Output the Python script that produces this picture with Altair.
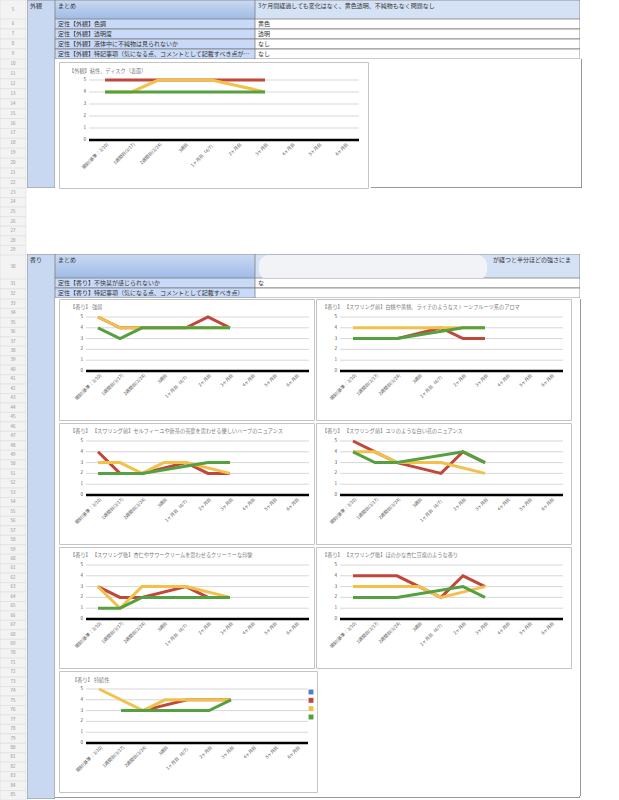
import altair as alt
import pandas as pd

FONT = "Noto Sans CJK JP"
BORDER = "#7d7d7d"
CAT_BG = "#c9d8f1"
LABEL_BG = "#c9daf8"
SUMVAL_BG = "#d5e2f5"
PANEL_STROKE = "#c4c4c4"

# ---------------- data ----------------
x_labels = ["開封(基準：3/10)", "1週間目(3/17)", "2週間目(3/24)", "3週目", "1ヶ月目（4/7）",
            "2ヶ月目", "3ヶ月目", "4ヶ月目", "5ヶ月目", "6ヶ月目"]
series_names = ["系列1", "系列2", "系列3", "系列4"]
series_colors = ["#4a7fd1", "#c0473a", "#f1c14c", "#55a040"]
y_ticks = [0, 1, 2, 3, 4, 5]

gaikan_name = "外観"
gaikan_summary_label = "まとめ"
gaikan_summary_value = "3ケ月間経過しても変化はなく、黄色透明、不純物もなく問題なし"
gaikan_item_labels = ["定性【外観】色調", "定性【外観】透明度", "定性【外観】液体中に不純物は見られないか",
                      "定性【外観】特記事項（気になる点、コメントとして記載すべき点があれば）"]
gaikan_item_values = ["黄色", "透明", "なし", "なし"]

kaori_name = "香り"
kaori_summary_label = "まとめ"
kaori_summary_value = "が経つと半分ほどの強さにま"
kaori_item_labels = ["定性【香り】不快臭が感じられないか",
                     "定性【香り】特記事項（気になる点、コメントとして記載すべき点）"]
kaori_item_values = ["な", ""]

rows_a = [5]
rows_b = [6, 7, 8, 9]
rows_c = [10, 11, 12, 13, 14, 15, 16, 17, 18, 19, 20, 21, 22]
rows_d = [23, 24, 25, 26, 27, 28, 29]
rows_e = [30]
rows_f = [31, 32]
rows_g = list(range(33, 86))

c1_title = "【外観】粘性、ディスク（表面）"
c1_blue = [None, None, None, None, None, None, None]
c1_red = [5, 5, 5, 5, 5, 5, 5]
c1_yellow = [4, 4, 5, 5, 5, None, 4]
c1_green = [4, 4, 4, 4, 4, 4, 4]

c2_title = "【香り】 強弱"
c2_blue = [None, None, None, None, None, None, None]
c2_red = [5, 4, 4, 4, 4, 5, 4]
c2_yellow = [5, 4, 4, 4, 4, 4, 4]
c2_green = [4, 3, 4, 4, 4, 4, 4]

c3_title = "【香り】 【スワリング前】白桃や黄桃、ライチのようなストーンフルーツ系のアロマ"
c3_blue = [None, None, None, None, None, None, None]
c3_red = [3, 3, 3, None, 4, 3, 3]
c3_yellow = [4, 4, 4, 4, 4, 4, 4]
c3_green = [3, 3, 3, None, None, 4, 4]

c4_title = "【香り】 【スワリング前】セルフィーユや新茶の茶葉を思わせる優しいハーブのニュアンス"
c4_blue = [None, None, None, None, None, None, None]
c4_red = [4, 2, 2, None, 3, 2, 2]
c4_yellow = [3, 3, 2, 3, 3, None, 2]
c4_green = [2, 2, 2, None, None, 3, 3]

c5_title = "【香り】 【スワリング前】ユリのような白い花のニュアンス"
c5_blue = [None, None, None, None, None, None, None]
c5_red = [5, 4, 3, None, 2, 4, 3]
c5_yellow = [4, 4, 3, 3, 3, None, 2]
c5_green = [4, 3, 3, None, None, 4, 3]

c6_title = "【香り】 【スワリング後】杏仁やサワークリームを思わせるクリーミーな印象"
c6_blue = [None, None, None, None, None, None, None]
c6_red = [3, 2, 2, None, 3, 2, 2]
c6_yellow = [3, 1, 3, 3, 3, None, 2]
c6_green = [1, 1, 2, 2, 2, 2, 2]

c7_title = "【香り】 【スワリング後】ほのかな杏仁豆腐のような香り"
c7_blue = [None, None, None, None, None, None, None]
c7_red = [4, 4, 4, None, 2, 4, 3]
c7_yellow = [3, 3, 3, 3, 2, None, 3]
c7_green = [2, 2, 2, None, None, 3, 2]

c8_title = "【香り】 持続性"
c8_blue = [None, None, None, None, None, None, None]
c8_red = [None, 3, 3, None, 4, 4, 4]
c8_yellow = [5, None, 3, 4, 4, 4, 4]
c8_green = [None, 3, 3, 3, 3, 3, 4]


# ---------------- helpers ----------------
def series_df(blue, red, yellow, green):
    recs = []
    for name, vals in zip(series_names, [blue, red, yellow, green]):
        for i, v in enumerate(vals):
            if v is not None:
                recs.append({"s": name, "t": x_labels[i], "i": i, "v": v})
    return pd.DataFrame(recs)


def hc(*charts, spacing=0):
    return alt.hconcat(*charts, spacing=spacing)


def vc(*charts, spacing=0):
    return alt.vconcat(*charts, spacing=spacing)


ONE = pd.DataFrame({"a": [0]})


def pad(w, h):
    return alt.Chart(ONE).mark_rect(opacity=0, clip=True).encode(
        x=alt.value(0), x2=alt.value(w), y=alt.value(0), y2=alt.value(h)
    ).properties(width=w, height=h)


def edge(w, h, bottom=False):
    layers = [pad(w, h),
              alt.Chart(ONE).mark_rule(color=BORDER, strokeWidth=0.8, clip=True).encode(
                  x=alt.value(w - 0.5), y=alt.value(0), y2=alt.value(h))]
    if bottom:
        layers.append(alt.Chart(ONE).mark_rule(color=BORDER, strokeWidth=0.8, clip=True).encode(
            x=alt.value(0), x2=alt.value(w), y=alt.value(h - 0.5)))
    return alt.layer(*layers).properties(width=w, height=h)


COLOR = alt.Color("s:N", scale=alt.Scale(domain=series_names, range=series_colors), legend=None)


def panel(title, df, g, legend=False):
    xsc = alt.Scale(type="point", domain=x_labels, range=[g["x0"], g["x9"]], padding=0)
    ysc = alt.Scale(type="linear", domain=[0, 5], range=[g["yb"], g["yt"]], nice=False, zero=False)
    X = alt.X("t:N", scale=xsc, axis=None)
    Y = alt.Y("v:Q", scale=ysc, axis=None)
    ticks = pd.DataFrame({"v": y_ticks})
    grid = alt.Chart(ticks).mark_rule(color="#d2d2d2", strokeWidth=0.9).encode(
        y=Y, x=alt.value(g["gl"]), x2=alt.value(g["gr"]))
    base = alt.Chart(pd.DataFrame({"v": [0]})).mark_rule(color="black", strokeWidth=2.3).encode(
        y=Y, x=alt.value(g["gl"]), x2=alt.value(g["gr"]))
    ylab = alt.Chart(ticks).mark_text(align="right", baseline="middle", fontSize=4.6, color="#555").encode(
        y=Y, x=alt.value(g["lx"]), text="v:Q")
    xlab = alt.Chart(pd.DataFrame({"t": x_labels})).mark_text(
        angle=315, align="right", baseline="middle", fontSize=4.5, color="#555", dx=2, dy=2).encode(
        x=X, y=alt.value(g["ly"]), text="t:N")
    ttl = alt.Chart(pd.DataFrame({"t": [title]})).mark_text(
        align="left", baseline="middle", fontSize=g["tf"], color="#7a7a7a", clip=True).encode(
        x=alt.value(g["tx"]), y=alt.value(g["ty"]), text="t:N")
    lines = alt.Chart(df).mark_line(strokeWidth=g["lw"]).encode(
        x=X, y=Y, color=COLOR, detail="s:N", order="i:Q")
    layers = [grid, base, ylab, xlab, ttl, lines]
    if legend:
        leg = alt.Chart(pd.DataFrame({"s": series_names})).mark_square(size=24, opacity=1).encode(
            x=alt.value(g["w"] - 6),
            y=alt.Y("s:N", scale=alt.Scale(type="point", domain=series_names, range=[21, 46], padding=0), axis=None),
            color=COLOR)
        layers.append(leg)
    ch = alt.layer(*layers).properties(
        width=g["w"], height=g["h"],
        view=alt.ViewBackground(stroke=PANEL_STROKE, strokeWidth=1, fill="white"))
    if legend:
        ch = ch.resolve_scale(y="independent")
    return ch


def cell_col(texts, w, h, fill, limit=None):
    df = pd.DataFrame({"r": list(range(len(texts))), "txt": texts})
    sc = alt.Scale(type="band", paddingInner=0, paddingOuter=0)
    rect = alt.Chart(df).mark_rect(fill=fill, stroke=BORDER, strokeWidth=0.8, clip=True).encode(
        y=alt.Y("r:O", scale=sc, axis=None), x=alt.value(0), x2=alt.value(w))
    kw = {}
    if limit:
        kw = {"limit": limit, "ellipsis": ""}
    txt = alt.Chart(df).mark_text(align="left", baseline="middle", fontSize=6, color="#333",
                                  clip=True, **kw).encode(
        y=alt.Y("r:O", scale=sc, axis=None, bandPosition=0.5), x=alt.value(3), text="txt:N")
    return alt.layer(rect, txt).properties(width=w, height=h)


def summary_cell(text, w, h, fill, blob=False, text_x=3):
    df = pd.DataFrame({"txt": [text]})
    rect = alt.Chart(df).mark_rect(fill=fill, stroke=BORDER, strokeWidth=0.8, clip=True).encode(
        x=alt.value(0), x2=alt.value(w), y=alt.value(0), y2=alt.value(h))
    layers = [rect]
    if blob:
        layers.append(alt.Chart(df).mark_rect(fill="#f3f4f6", opacity=0.97, cornerRadius=10, clip=True).encode(
            x=alt.value(4), x2=alt.value(232), y=alt.value(1), y2=alt.value(h + 2)))
    layers.append(alt.Chart(df).mark_text(align="left", baseline="top", fontSize=6, color="#333",
                                          limit=w - text_x - 2, ellipsis="", clip=True).encode(
        x=alt.value(text_x), y=alt.value(3), text="txt:N"))
    return alt.layer(*layers).properties(width=w, height=h)


grad = alt.LinearGradient(gradient="linear",
                          stops=[alt.GradientStop(offset=0, color="#c9daf3"),
                                 alt.GradientStop(offset=1, color="#9fbbe5")],
                          x1=0, x2=0, y1=0, y2=1)


def cat_block(name, h):
    df = pd.DataFrame({"name": [name]})
    rect = alt.Chart(df).mark_rect(fill=CAT_BG, stroke=BORDER, strokeWidth=0.8, clip=True).encode(
        x=alt.value(0), x2=alt.value(28), y=alt.value(0), y2=alt.value(h))
    txt = alt.Chart(df).mark_text(align="left", baseline="top", fontSize=6, color="#333", clip=True).encode(
        x=alt.value(3), y=alt.value(3), text="name:N")
    return alt.layer(rect, txt).properties(width=28, height=h)


def rownums(rows, h):
    df = pd.DataFrame({"r": list(range(len(rows))), "n": [str(r) for r in rows]})
    sc = alt.Scale(type="band", paddingInner=0, paddingOuter=0)
    rect = alt.Chart(df).mark_rect(fill="#f3f3f3", stroke="#dedede", strokeWidth=0.6, clip=True).encode(
        y=alt.Y("r:O", scale=sc, axis=None), x=alt.value(0), x2=alt.value(26))
    txt = alt.Chart(df).mark_text(align="center", baseline="middle", fontSize=4.4, color="#8a8a8a",
                                  clip=True).encode(
        y=alt.Y("r:O", scale=sc, axis=None, bandPosition=0.5), x=alt.value(13), text="n:N")
    return alt.layer(rect, txt).properties(width=27, height=h)


# ---------------- geometry ----------------
gA = dict(w=309, h=126, x0=46, x9=286, yb=78, yt=18, gl=30, gr=300, lx=27, ly=82, lw=3.2, tx=10, ty=9, tf=5.2)
gL = dict(w=255, h=121, x0=39, x9=237, yb=72, yt=18, gl=27, gr=250, lx=24, ly=76, lw=3.0, tx=11, ty=8, tf=5.2)
gR = dict(w=255, h=121, x0=37, x9=235, yb=72, yt=18, gl=24, gr=247, lx=21, ly=76, lw=3.0, tx=6, ty=8, tf=5.2)
gH = dict(w=258, h=121, x0=40, x9=238, yb=72, yt=18, gl=27, gr=249, lx=24, ly=76, lw=3.0, tx=13, ty=9, tf=5.2)

pA = panel(c1_title, series_df(c1_blue, c1_red, c1_yellow, c1_green), gA)
p2 = panel(c2_title, series_df(c2_blue, c2_red, c2_yellow, c2_green), gL)
p3 = panel(c3_title, series_df(c3_blue, c3_red, c3_yellow, c3_green), gR)
p4 = panel(c4_title, series_df(c4_blue, c4_red, c4_yellow, c4_green), gL)
p5 = panel(c5_title, series_df(c5_blue, c5_red, c5_yellow, c5_green), gR)
p6 = panel(c6_title, series_df(c6_blue, c6_red, c6_yellow, c6_green), gL)
p7 = panel(c7_title, series_df(c7_blue, c7_red, c7_yellow, c7_green), gR)
p8 = panel(c8_title, series_df(c8_blue, c8_red, c8_yellow, c8_green), gH, legend=True)

# ---------------- layout ----------------
strip = vc(rownums(rows_a, 19), rownums(rows_b, 40), rownums(rows_c, 129), rownums(rows_d, 67),
           rownums(rows_e, 24), rownums(rows_f, 20), rownums(rows_g, 501))

table1 = vc(
    hc(summary_cell(gaikan_summary_label, 200, 19, grad),
       summary_cell(gaikan_summary_value, 325, 19, SUMVAL_BG)),
    hc(cell_col(gaikan_item_labels, 200, 40, LABEL_BG, limit=196),
       cell_col(gaikan_item_values, 325, 40, "white")))
charts1 = hc(pad(1, 129), vc(pad(309, 1), pA, spacing=1), edge(211, 129, bottom=True), spacing=2)
sec1 = hc(cat_block(gaikan_name, 188), vc(table1, charts1))

gap = pad(592, 65)

table2 = vc(
    hc(summary_cell(kaori_summary_label, 200, 24, grad),
       summary_cell(kaori_summary_value, 325, 24, SUMVAL_BG, blob=True, text_x=238)),
    hc(cell_col(kaori_item_labels, 200, 20, LABEL_BG, limit=196),
       cell_col(kaori_item_values, 325, 20, "white")))
grid_core = vc(
    hc(p2, p3, spacing=0),
    hc(p4, p5, spacing=0),
    hc(p6, p7, spacing=0),
    p8,
    spacing=1)
grid_region = hc(pad(1, 497), grid_core, edge(7, 497), spacing=2)
bottom = alt.layer(
    pad(525, 4),
    alt.Chart(ONE).mark_rule(color=BORDER, strokeWidth=0.8, clip=True).encode(
        x=alt.value(0), x2=alt.value(525), y=alt.value(1.5)),
    alt.Chart(ONE).mark_rule(color=BORDER, strokeWidth=0.8, clip=True).encode(
        x=alt.value(524.5), y=alt.value(0), y2=alt.value(1.5)),
).properties(width=525, height=4)
sec2 = hc(cat_block(kaori_name, 545), vc(table2, grid_region, bottom))

main = vc(sec1, gap, sec2)

chart = hc(strip, main).properties(
    padding=0, background="white"
).configure(font=FONT).configure_view(stroke=None)

chart.save("out.html", embed_options={"renderer": "svg", "actions": False})
